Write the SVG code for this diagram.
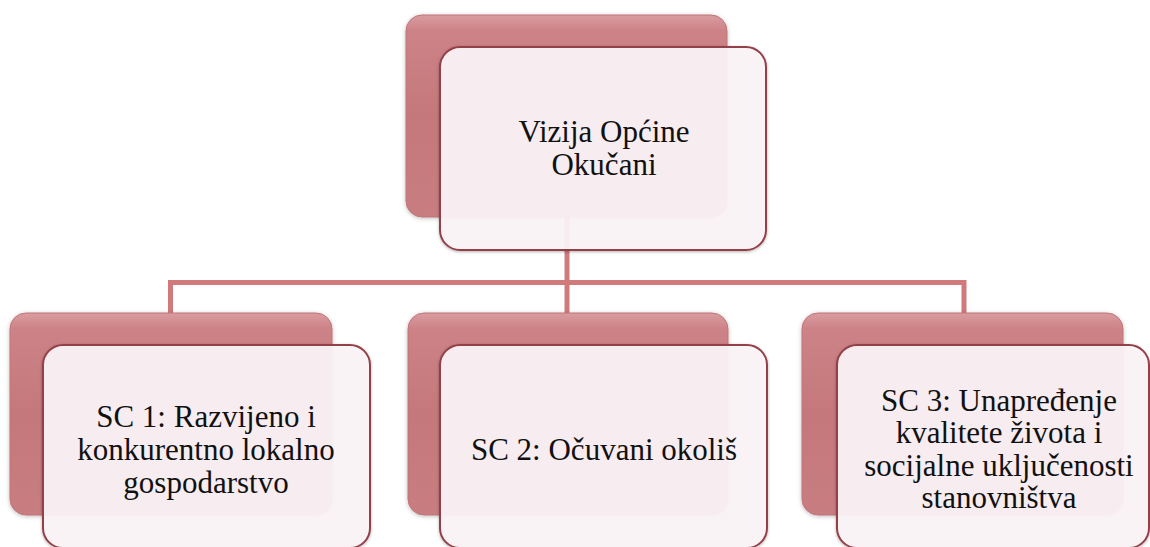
<svg xmlns="http://www.w3.org/2000/svg" width="1150" height="547" viewBox="0 0 1150 547">
<style>
.back{fill:url(#gBack);stroke:#bf7479;stroke-width:1;filter:url(#sh)}
.front{fill:#fdf5f8;fill-opacity:0.92;stroke:#93404a;stroke-width:2;filter:url(#sh2)}
.conn{fill:none;stroke:#d07a7c;stroke-width:5}
.t{font-family:"Liberation Serif","Times New Roman",serif;font-size:31px;fill:#111;text-anchor:middle}
</style>
<defs>
<linearGradient id="gBack" x1="0" y1="0" x2="0" y2="1">
<stop offset="0" stop-color="#d99ca0"/>
<stop offset="0.08" stop-color="#cc8286"/>
<stop offset="0.5" stop-color="#c4787c"/>
<stop offset="1" stop-color="#c87d81"/>
</linearGradient>
<filter id="sh" x="-10%" y="-10%" width="120%" height="120%">
<feDropShadow dx="0" dy="1" stdDeviation="2" flood-color="#000" flood-opacity="0.25"/>
</filter>
<filter id="sh2" x="-10%" y="-10%" width="120%" height="120%">
<feDropShadow dx="0" dy="1" stdDeviation="1.5" flood-color="#000" flood-opacity="0.3"/>
</filter>
</defs>
<g id="connectors">
<path class="conn" d="M567 215 V313"/>
<path class="conn" d="M170.5 313 V282.5 H964 V313"/>
</g>
<g id="node-vizija">
<rect class="back" x="406" y="15" width="321" height="202" rx="16"/>
<rect class="front" x="440" y="47" width="326" height="203" rx="20"/>
<text class="t"><tspan x="604" y="142">Vizija Općine</tspan><tspan x="604" y="175">Okučani</tspan></text>
</g>
<g id="node-sc1">
<rect class="back" x="10" y="313" width="322" height="202" rx="16"/>
<rect class="front" x="43" y="345" width="327" height="203" rx="20"/>
<text class="t"><tspan x="206" y="427">SC 1: Razvijeno i</tspan><tspan x="206" y="460">konkurentno lokalno</tspan><tspan x="206" y="492.5">gospodarstvo</tspan></text>
</g>
<g id="node-sc2">
<rect class="back" x="408" y="313" width="320" height="202" rx="16"/>
<rect class="front" x="440" y="345" width="327" height="203" rx="20"/>
<text class="t"><tspan x="604" y="460">SC 2: Očuvani okoliš</tspan></text>
</g>
<g id="node-sc3">
<rect class="back" x="802" y="313" width="321" height="202" rx="16"/>
<rect class="front" x="837" y="345" width="312" height="203" rx="20"/>
<text class="t"><tspan x="999" y="410.5">SC 3: Unapređenje</tspan><tspan x="999" y="443">kvalitete života i</tspan><tspan x="999" y="475.5">socijalne uključenosti</tspan><tspan x="999" y="508">stanovništva</tspan></text>
</g>
</svg>
